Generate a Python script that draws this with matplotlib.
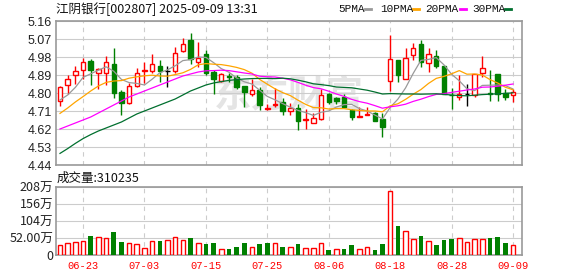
import matplotlib
matplotlib.use("Agg")
import matplotlib.pyplot as plt
from matplotlib.patches import Rectangle
from matplotlib.lines import Line2D
import numpy as np

plt.rcParams['font.family'] = ['Noto Sans CJK SC', 'DejaVu Sans']

title = "江阴银行[002807] 2025-09-09 13:31"
last_volume = "310235"

dates = ["06-18", "06-19", "06-20", "06-23", "06-24", "06-25", "06-26", "06-27", "06-30",
         "07-01", "07-02", "07-03", "07-04", "07-07", "07-08", "07-09", "07-10", "07-11",
         "07-14", "07-15", "07-16", "07-17", "07-18", "07-21", "07-22", "07-23", "07-24",
         "07-25", "07-28", "07-29", "07-30", "07-31", "08-01", "08-04", "08-05", "08-06",
         "08-07", "08-08", "08-11", "08-12", "08-13", "08-14", "08-15", "08-18", "08-19",
         "08-20", "08-21", "08-22", "08-25", "08-26", "08-27", "08-28", "08-29", "09-01",
         "09-02", "09-03", "09-04", "09-05", "09-08", "09-09"]

opens = [4.76, 4.84, 4.89, 4.915, 4.96, 4.90, 4.90, 4.945, 4.805, 4.75,
         4.835, 4.908, 4.908, 4.935, 4.91, 4.91, 5.008, 5.065, 4.955, 4.995,
         4.905, 4.86, 4.885, 4.878, 4.835, 4.795, 4.815, 4.72, 4.74, 4.755,
         4.71, 4.725, 4.665, 4.65, 4.672, 4.795, 4.775, 4.78, 4.715, 4.68,
         4.692, 4.70, 4.67, 4.86, 4.965, 4.87, 4.99, 5.043, 4.948, 4.983,
         4.935, 4.792, 4.78, 4.793, 4.79, 4.898, 4.80, 4.893, 4.80, 4.79]
highs = [4.835, 4.89, 4.935, 4.975, 4.97, 4.925, 4.985, 5.025, 4.815, 4.848,
         4.925, 4.955, 4.995, 4.965, 4.935, 5.028, 5.075, 5.10, 5.055, 5.015,
         4.915, 4.90, 4.90, 4.888, 4.835, 4.868, 4.828, 4.745, 4.825, 4.775,
         4.748, 4.745, 4.722, 4.702, 4.818, 4.80, 4.78, 4.795, 4.722, 4.728,
         4.732, 4.705, 4.698, 5.088, 4.965, 5.025, 5.048, 5.067, 5.023, 5.017,
         4.935, 4.823, 4.89, 4.845, 4.893, 4.985, 4.915, 4.893, 4.82, 4.82]
lows = [4.735, 4.795, 4.845, 4.87, 4.84, 4.82, 4.84, 4.775, 4.688, 4.745,
        4.828, 4.85, 4.898, 4.855, 4.828, 4.90, 5.005, 4.945, 4.928, 4.888,
        4.795, 4.855, 4.855, 4.82, 4.728, 4.785, 4.715, 4.715, 4.732, 4.688,
        4.688, 4.615, 4.622, 4.648, 4.665, 4.745, 4.745, 4.728, 4.665, 4.68,
        4.688, 4.658, 4.578, 4.812, 4.857, 4.868, 4.965, 4.932, 4.907, 4.923,
        4.793, 4.718, 4.765, 4.737, 4.782, 4.878, 4.76, 4.76, 4.765, 4.753]
closes = [4.83, 4.87, 4.91, 4.955, 4.915, 4.92, 4.955, 4.80, 4.75, 4.835,
          4.90, 4.915, 4.945, 4.91, 4.91, 5.00, 5.045, 4.97, 4.975, 4.90,
          4.87, 4.895, 4.88, 4.83, 4.805, 4.815, 4.74, 4.725, 4.745, 4.71,
          4.725, 4.66, 4.67, 4.675, 4.79, 4.755, 4.76, 4.73, 4.68, 4.685,
          4.697, 4.66, 4.63, 4.97, 4.89, 4.975, 5.025, 4.957, 4.993, 4.935,
          4.795, 4.788, 4.793, 4.793, 4.893, 4.923, 4.795, 4.795, 4.78, 4.805]
# 成交量, 万
volume = [30.5, 36.5, 39.6, 42.6, 57.9, 53.8, 50.8, 70.0, 39.6, 35.5,
          32.5, 20.3, 41.6, 41.6, 45.7, 53.8, 45.7, 51.8, 35.5, 33.5,
          36.5, 17.3, 18.3, 24.4, 36.5, 23.3, 33.5, 36.5, 36.5, 24.4,
          24.4, 33.5, 20.3, 20.3, 35.5, 15.2, 17.3, 18.3, 30.5, 17.3,
          23.3, 15.2, 33.5, 193.9, 88.3, 72.1, 47.7, 57.9, 41.6, 30.5,
          45.7, 48.7, 50.8, 39.6, 47.7, 47.7, 51.8, 54.8, 36.5, 31.0]
# r = up day, g = down day (volume colour)
vol_dir = "rrrr" + "grrggrrrrg" + "rrrgrggrgg" + "grggrgrgrr" + "rgrggrrggr" + "grrgrgggrr" + "rrgggr"
# flat candles drawn black
flat_black = [14, 53]

ma5 = [4.765, 4.79, 4.828, 4.878, 4.896, 4.914, 4.931, 4.909, 4.868, 4.852,
       4.848, 4.84, 4.869, 4.901, 4.916, 4.936, 4.962, 4.967, 4.98, 4.978,
       4.952, 4.922, 4.904, 4.875, 4.856, 4.845, 4.814, 4.783, 4.766, 4.747,
       4.729, 4.713, 4.702, 4.688, 4.704, 4.71, 4.73, 4.742, 4.743, 4.722,
       4.71, 4.69, 4.67, 4.728, 4.769, 4.825, 4.898, 4.963, 4.968, 4.977,
       4.941, 4.894, 4.861, 4.821, 4.812, 4.838, 4.839, 4.840, 4.837, 4.820]
ma10 = [4.698, 4.725, 4.755, 4.782, 4.81, 4.835, 4.853, 4.86, 4.862, 4.874,
        4.881, 4.886, 4.889, 4.885, 4.884, 4.892, 4.901, 4.918, 4.941, 4.947,
        4.944, 4.942, 4.936, 4.928, 4.917, 4.899, 4.868, 4.844, 4.821, 4.802,
        4.787, 4.764, 4.743, 4.727, 4.726, 4.720, 4.722, 4.722, 4.716, 4.713,
        4.710, 4.710, 4.706, 4.736, 4.746, 4.768, 4.794, 4.817, 4.848, 4.873,
        4.883, 4.896, 4.912, 4.894, 4.895, 4.890, 4.867, 4.850, 4.829, 4.816]
ma20 = [4.62, 4.635, 4.65, 4.665, 4.68, 4.7, 4.72, 4.74, 4.76, 4.78,
        4.795, 4.81, 4.825, 4.84, 4.855, 4.87, 4.885, 4.895, 4.905, 4.911,
        4.912, 4.914, 4.912, 4.906, 4.9, 4.895, 4.884, 4.881, 4.88, 4.874,
        4.866, 4.853, 4.839, 4.827, 4.821, 4.809, 4.795, 4.783, 4.768, 4.757,
        4.749, 4.737, 4.724, 4.731, 4.736, 4.744, 4.758, 4.769, 4.782, 4.793,
        4.797, 4.803, 4.809, 4.815, 4.82, 4.829, 4.83, 4.834, 4.839, 4.845]
ma30 = [4.498, 4.522, 4.548, 4.572, 4.592, 4.61, 4.625, 4.64, 4.655, 4.675,
        4.695, 4.71, 4.725, 4.74, 4.755, 4.77, 4.79, 4.81, 4.825, 4.84,
        4.85, 4.857, 4.863, 4.867, 4.87, 4.872, 4.873, 4.873, 4.872, 4.874,
        4.871, 4.864, 4.856, 4.846, 4.842, 4.837, 4.83, 4.828, 4.826, 4.82,
        4.814, 4.805, 4.795, 4.797, 4.796, 4.795, 4.795, 4.794, 4.795, 4.796,
        4.793, 4.79, 4.787, 4.786, 4.789, 4.792, 4.794, 4.796, 4.798, 4.801]

ma_lines = [("5PMA", ma5, "#999999"), ("10PMA", ma10, "#ffa500"),
            ("20PMA", ma20, "#ff00ff"), ("30PMA", ma30, "#006f2e")]

red = "#ff0000"
green = "#008000"

W, H = 578, 276
fig = plt.figure(figsize=(W / 100, H / 100), dpi=100)
ax = fig.add_axes([56 / W, 1 - 165 / H, 466 / W, 144 / H])
axv = fig.add_axes([56 / W, 1 - 255 / H, 466 / W, 68.3 / H])

x = np.arange(len(closes))
bw = 0.58

# watermark
ax.text(0.5, 0.48, "东方财富", transform=ax.transAxes, ha="center", va="center",
        fontsize=27, fontweight="bold", color="#e4e4e4", zorder=0.5)

for i in x:
    o, h, l, c = opens[i], highs[i], lows[i], closes[i]
    flat = abs(c - o) < 1e-9
    if flat:
        col = "black" if i in flat_black else (red if vol_dir[i] == "r" else green)
    elif c > o:
        col = red
    else:
        col = green
    ax.vlines(i, l, h, color=col, lw=1.0, zorder=3)
    lo, hi = min(o, c), max(o, c)
    if flat:
        ax.hlines(c, i - bw / 2, i + bw / 2, color=col, lw=1.0, zorder=4)
    elif col == red:
        ax.add_patch(Rectangle((i - bw / 2, lo), bw, hi - lo, facecolor="white",
                               edgecolor=red, lw=1.0, zorder=4))
    else:
        ax.add_patch(Rectangle((i - bw / 2, lo), bw, hi - lo, facecolor=col,
                               edgecolor=col, lw=1.0, zorder=4))

for name, vals, col in ma_lines:
    ax.plot(x, vals, color=col, lw=0.9, zorder=5)

for i in x:
    if vol_dir[i] == "r":
        axv.bar(i, volume[i], width=0.6, facecolor="white", edgecolor=red, lw=1.0, zorder=3)
    else:
        axv.bar(i, volume[i], width=0.6, color=green, zorder=3)

tick_idx = list(range(3, len(dates), 8))
yt = np.round(4.44 + 0.09 * np.arange(9), 2)
for a in (ax, axv):
    a.set_xlim(-0.52, 60.17)
    a.set_xticks(tick_idx)
    a.set_axisbelow(True)
    a.xaxis.grid(True, color="#cccccc", lw=0.8, ls=(0, (4, 4)))
    a.yaxis.grid(True, color="#cccccc", lw=0.8)
    for sp in a.spines.values():
        sp.set_color("#999999")
        sp.set_linewidth(1.2)
    a.tick_params(length=0)

ax.set_ylim(4.44, 5.16)
ax.set_yticks(yt)
ax.set_yticklabels(["%.2f" % v for v in yt], fontfamily="Liberation Sans",
                   fontsize=9, color="#222222")
ax.set_xticklabels([])
ax.tick_params(axis="y", pad=3)

axv.set_ylim(0, 208)
axv.set_yticks([0, 52, 104, 156, 208])
axv.set_yticklabels(["0", "52.00万", "104万", "156万", "208万"], fontsize=9, color="#222222")
axv.set_xticklabels([dates[i] for i in tick_idx], fontfamily="Liberation Mono",
                    fontsize=7.5, color=red)
axv.tick_params(axis="y", pad=2)
axv.tick_params(axis="x", pad=4)

fig.text(56 / W, 1 - 9 / H, title, fontsize=9, va="center", ha="left", color="#111111")
fig.text(57 / W, 1 - 178 / H, "成交量:" + last_volume, fontsize=9, va="center",
         ha="left", color="#111111")

# legend: label followed by a short coloured dash
legend_pos = [(338.7, 365), (380, 413), (425.7, 460), (472, 505)]
for (name, vals, col), (tx, lx) in zip(ma_lines, legend_pos):
    fig.text(tx / W, 1 - 9 / H, name, fontfamily="Liberation Mono", fontsize=8,
             va="center", ha="left", color="#111111")
    fig.add_artist(Line2D([lx / W, (lx + 6) / W], [1 - 9 / H, 1 - 9 / H],
                          color=col, lw=2))

fig.savefig("out.png", dpi=100)
